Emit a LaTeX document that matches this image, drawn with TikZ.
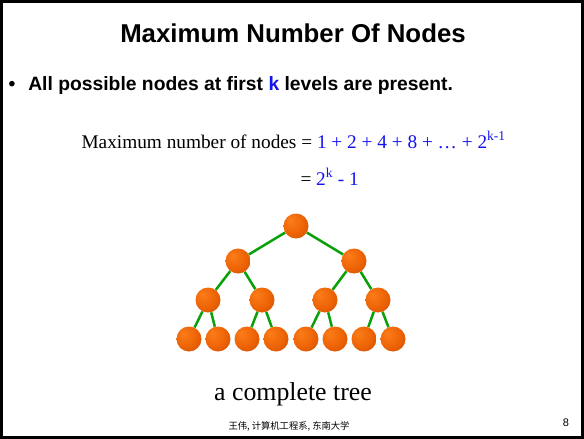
\documentclass[tikz,border=0pt]{standalone}
\usepackage{fontspec}
\usetikzlibrary{backgrounds}
\setmainfont{Liberation Serif}
\newfontfamily\arialfont{Liberation Sans}
\newfontfamily\cjkfont{Noto Sans CJK SC}
\definecolor{edgegreen}{RGB}{10,160,10}
\definecolor{mblue}{RGB}{20,20,240}
\definecolor{ballA}{RGB}{252,125,25}
\definecolor{ballB}{RGB}{236,98,5}
\definecolor{ballC}{RGB}{180,64,0}
\pgfdeclareradialshading{orb}{\pgfpoint{-12bp}{12bp}}{color(0bp)=(ballA); color(24bp)=(ballB); color(52bp)=(ballC); color(60bp)=(ballC)}
\tikzset{
  treenode/.style={circle, minimum size=25pt, inner sep=0pt, shading=orb},
  treeedge/.style={draw=edgegreen, line width=2.5pt},
}
\begin{document}
\begin{tikzpicture}[x=1pt,y=-1pt]
\useasboundingbox (0,0) rectangle (584,439);
\node[font=\arialfont\bfseries\fontsize{25.8}{30}\selectfont] (title) at (293,33) {Maximum Number Of Nodes};
\node[font=\arialfont\bfseries\fontsize{19.3}{23}\selectfont, anchor=west] (bullet) at (5,86) {\textbullet\hspace{13pt}All possible nodes at first \textcolor{mblue}{k} levels are present.};
\node[font=\fontsize{19.3}{22}\selectfont, anchor=base west] (formula1) at (78,148) {Maximum number of nodes = \textcolor{mblue}{1 + 2 + 4 + 8 + \dots\ + 2\textsuperscript{k-1}}};
\node[font=\fontsize{19.3}{22}\selectfont, anchor=base west] (formula2) at (297,185) {= \textcolor{mblue}{2\textsuperscript{k} - 1}};
% tree
\node[treenode] (r) at (296,226) {};
\node[treenode] (a) at (238,261) {};
\node[treenode] (b) at (354,261) {};
\node[treenode] (aa) at (208,300) {};
\node[treenode] (ab) at (262,300) {};
\node[treenode] (ba) at (325,300) {};
\node[treenode] (bb) at (378,300) {};
\node[treenode] (l1) at (189,339) {};
\node[treenode] (l2) at (218,339) {};
\node[treenode] (l3) at (247,339) {};
\node[treenode] (l4) at (276,339) {};
\node[treenode] (l5) at (306,339) {};
\node[treenode] (l6) at (335,339) {};
\node[treenode] (l7) at (364,339) {};
\node[treenode] (l8) at (393,339) {};
\node[font=\fontsize{25.8}{30}\selectfont] (caption) at (293,394) {a complete tree};
\node[font=\cjkfont\fontsize{9.3}{11}\selectfont] (footer) at (289,426) {王伟, 计算机工程系, 东南大学};
\node[font=\arialfont\fontsize{11}{13}\selectfont] (page) at (566,423) {8};
\begin{pgfonlayer}{background}
\fill[white] (0,0) rectangle (584,439);
\draw[line width=2.5pt] (1.5,1.5) rectangle (582.5,437.5);
\draw[treeedge] (r) -- (a);
\draw[treeedge] (r) -- (b);
\draw[treeedge] (a) -- (aa);
\draw[treeedge] (a) -- (ab);
\draw[treeedge] (b) -- (ba);
\draw[treeedge] (b) -- (bb);
\draw[treeedge] (aa) -- (l1);
\draw[treeedge] (aa) -- (l2);
\draw[treeedge] (ab) -- (l3);
\draw[treeedge] (ab) -- (l4);
\draw[treeedge] (ba) -- (l5);
\draw[treeedge] (ba) -- (l6);
\draw[treeedge] (bb) -- (l7);
\draw[treeedge] (bb) -- (l8);
\end{pgfonlayer}
\end{tikzpicture}
\end{document}
